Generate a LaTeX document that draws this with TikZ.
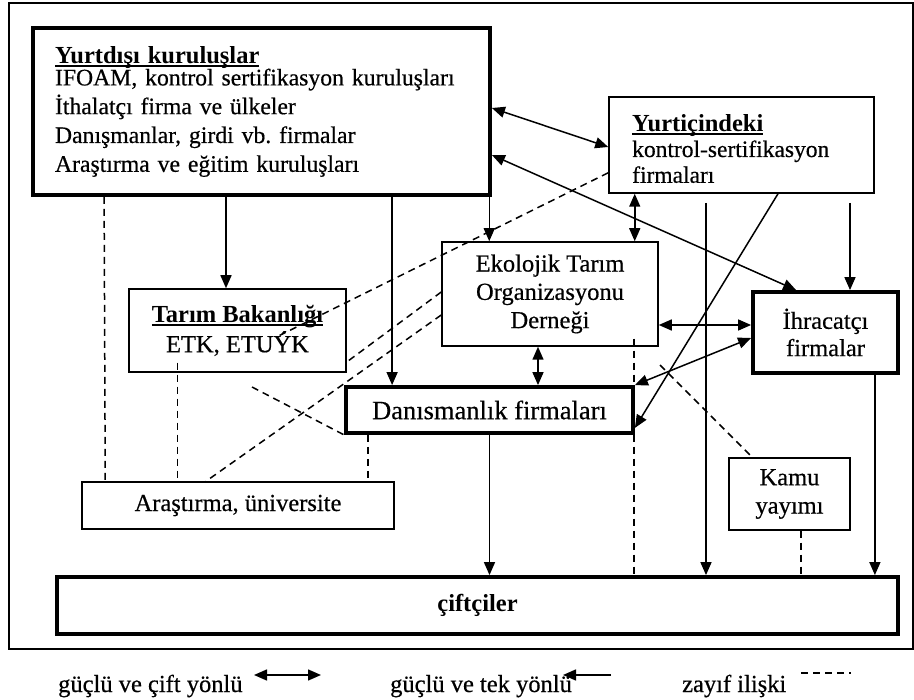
\documentclass[tikz,border=0pt]{standalone}
\usepackage{fontspec}
\setmainfont{Liberation Serif}[UprightFeatures={FakeBold=0.5}]
\usetikzlibrary{arrows.meta}

\newcommand{\ulin}[1]{\setbox0\hbox{#1}\rlap{\rule[-4pt]{\wd0}{2pt}}\box0}

\tikzset{
  box/.style={draw, line width=1.5pt, inner sep=0pt, align=center},
  thickbox/.style={box, line width=3.8pt},
  oneway/.style={line width=1.5pt, -{Triangle[length=13pt,width=11pt]}},
  twoway/.style={line width=1.5pt, {Triangle[length=13pt,width=11pt]}-{Triangle[length=13pt,width=11pt]}},
  weak/.style={line width=1.5pt, dash pattern=on 7pt off 5pt},
}

\begin{document}
\frenchspacing
\begin{tikzpicture}[x=1pt,y=-1pt,font=\fontsize{24.5}{28.3}\selectfont]
    \useasboundingbox (0,0) rectangle (914,700);
    \draw[line width=1.5pt] (9,3) rectangle (913,649);

    % kutular
    \node[thickbox, minimum width=457pt, minimum height=167pt, text width=413pt, align=left,
          font=\fontsize{23.7}{28.8}\selectfont] (yd) at (261.5,111.5)
      {\ulin{\fontsize{24.5}{28.3}\selectfont\textbf{Yurtdışı kuruluşlar}}\\[-6.5pt]
       IFOAM, kontrol sertifikasyon kuruluşları\\
       İthalatçı firma ve ülkeler\\
       Danışmanlar, girdi vb.\ firmalar\\
       Araştırma ve eğitim kuruluşları};
    \node[box, minimum width=265pt, minimum height=96pt] (yic) at (741.5,145) {};
    \node[anchor=north west, inner sep=0pt, align=left, font=\fontsize{23.5}{28.3}\selectfont] (yictext) at (632,114)
      {\ulin{\fontsize{24.5}{28.3}\selectfont\textbf{Yurtiçindeki}}\\[-2.5pt] kontrol-sertifikasyon\\[-2.5pt] firmaları};
    \node[box, minimum width=217pt, minimum height=83pt] (tb) at (237.5,330.5)
      {\ulin{\textbf{Tarım Bakanlığı}}\\[1.7pt] ETK, ETUÝK};
    \node[box, minimum width=216pt, minimum height=104pt] (eko) at (550,294)
      {Ekolojik Tarım\\ Organizasyonu\\ Derneği};
    \node[thickbox, minimum width=145pt, minimum height=81pt] (ihr) at (825.5,332.5)
      {İhracatçı\\[-1pt] firmalar};
    \node[thickbox, minimum width=287pt, minimum height=46pt, font=\fontsize{26.5}{30}\selectfont] (dan) at (489.5,410)
      {Danısmanlık firmaları};
    \node[box, minimum width=312pt, minimum height=47pt] (ara) at (238,505.5)
      {Araştırma, üniversite};
    \node[box, minimum width=121pt, minimum height=72pt] (kamu) at (789.5,494)
      {Kamu\\ yayımı};
    \node[thickbox, minimum width=841pt, minimum height=57pt] (cif) at (477.5,605.5)
      {\textbf{çiftçiler}};

    % güçlü ve tek yönlü
    \draw[oneway] ([xshift=-11.5pt]tb.north |- yd.south) -- ([xshift=-11.5pt]tb.north);
    \draw[oneway] ([xshift=48pt]dan.north west |- yd.south) -- ([xshift=48pt]dan.north west);
    \draw[oneway] ([xshift=48pt]eko.north west |- yd.south) -- ([xshift=48pt]eko.north west);
    \coordinate (yic1) at (706,203);
    \coordinate (yic2) at (850,203);
    \draw[oneway] (yic1) -- (yic1 |- cif.north);
    \draw[oneway] (yic2) -- (yic2 |- ihr.north);
    \draw[oneway] ([xshift=36.5pt]yic.south) -- ([yshift=7pt]dan.south east);
    \draw[oneway] (dan.south) -- (dan.south |- cif.north);
    \draw[oneway] ([xshift=-25pt]ihr.south east) -- ([xshift=-25pt]ihr.south east |- cif.north);

    % güçlü ve çift yönlü
    \draw[twoway] ([yshift=3.5pt]yd.east) -- ([yshift=-2pt]yic.west);
    \draw[twoway] ([yshift=-43.5pt]yd.east) -- ([xshift=45pt]ihr.north west);
    \draw[twoway] ([xshift=-24pt]eko.north east |- yic.south) -- ([xshift=-24pt]eko.north east);
    \draw[twoway] ([yshift=-31pt]eko.east) -- ([yshift=-31pt]eko.east -| ihr.west);
    \draw[twoway] ([yshift=-5.5pt]ihr.west) -- (dan.north east);
    \draw[twoway] ([xshift=-12pt]eko.south) -- ([xshift=-12pt]eko.south |- dan.north);

    % zayıf ilişki
    \draw[weak] ([xshift=73pt]yd.south west) -- ([xshift=24pt]ara.north west);
    \draw[weak] ([xshift=49pt,yshift=10pt]tb.south west) -- ([xshift=96pt]ara.north west);
    \draw[weak] ([xshift=24pt]dan.south west) -- ([xshift=24pt]dan.south west |- ara.north);
    \draw[weak] ([xshift=-25pt,yshift=8pt]eko.south east) -- ([xshift=-25pt]eko.south east |- cif.north);
    \draw[weak] ([xshift=11.5pt]kamu.south) -- ([xshift=11.5pt]kamu.south |- cif.north);
    \draw[weak] ([yshift=21pt]yic.south west) -- ([xshift=42pt,yshift=-5pt]tb.center);
    \draw[weak] ([yshift=2pt]eko.west) -- ([yshift=-31.5pt]tb.east);
    \draw[weak] ([yshift=-21pt]eko.west) -- ([xshift=-32pt]ara.north);
    \coordinate (w1) at (252,387);
    \draw[weak] (w1) -- (dan.south west);
    \coordinate (w2) at (660,365);
    \draw[weak] (w2) -- ([xshift=24pt]kamu.north west);

    % lejant
    \node[anchor=base west, inner sep=0pt] (lg1) at (58,692) {güçlü ve çift yönlü};
    \node[anchor=base west, inner sep=0pt] (lg2) at (390,692) {güçlü ve tek yönlü};
    \node[anchor=base west, inner sep=0pt] (lg3) at (682,692) {zayıf ilişki};
    \coordinate (a1) at (254,675);
    \coordinate (b1) at (321,675);
    \draw[twoway] (a1) -- (b1);
    \coordinate (a2) at (611,675);
    \coordinate (b2) at (563,675);
    \draw[oneway] (a2) -- (b2);
    \coordinate (a3) at (801,673);
    \coordinate (b3) at (851,673);
    \draw[weak] (a3) -- (b3);
\end{tikzpicture}
\end{document}
